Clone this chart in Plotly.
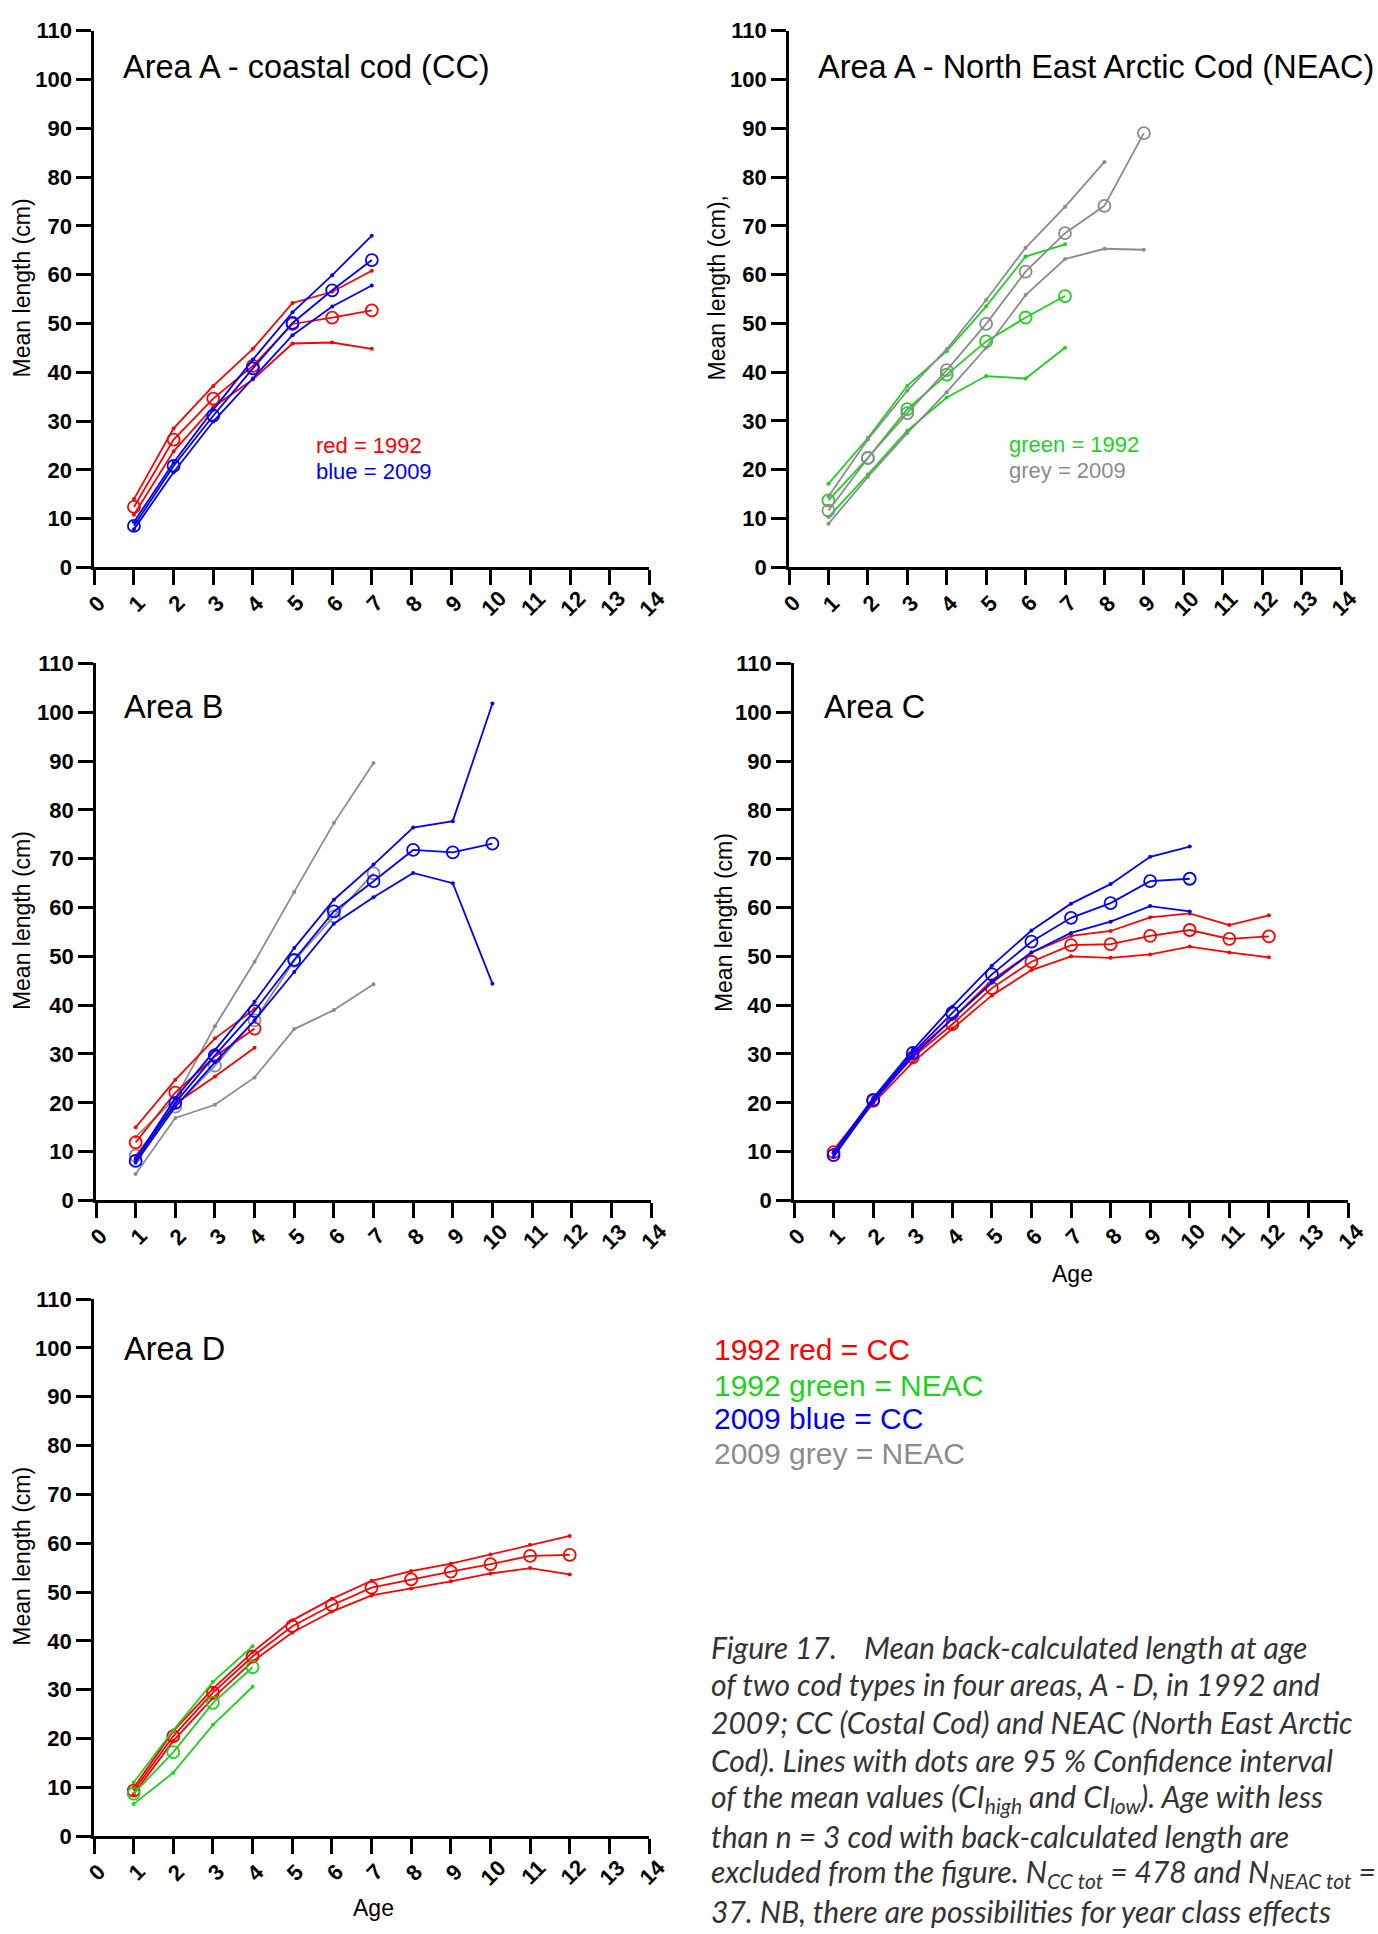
import plotly.graph_objects as go

W, H = 1378, 1934

AGES = [1, 2, 3, 4, 5, 6, 7, 8, 9, 10, 11, 12]
X_TICKS = list(range(0, 15))
X_TICK_LABELS = [str(t) for t in X_TICKS]
Y_TICKS = list(range(0, 111, 10))

# ---------------- data (mean length, cm; CI high / mean / CI low) ----------------
# Area A - coastal cod
a_cc92_high = [14.0, 28.5, 37.2, 44.8, 54.2, 56.5, 60.8]
a_cc92_mean = [12.4, 26.2, 34.6, 41.3, 49.9, 51.2, 52.7]
a_cc92_low = [10.8, 23.8, 32.9, 38.5, 45.9, 46.1, 44.8]
a_cc09_high = [9.3, 21.5, 32.3, 42.6, 52.3, 59.9, 68.0]
a_cc09_mean = [8.5, 20.8, 31.1, 40.8, 50.1, 56.8, 63.0]
a_cc09_low = [7.8, 19.5, 29.9, 38.7, 47.6, 53.5, 57.8]

# Area A - North East Arctic cod
a_ne92_high = [17.1, 26.5, 37.2, 44.3, 53.5, 63.7, 66.2]
a_ne92_mean = [13.7, 22.4, 32.4, 39.5, 46.3, 51.2, 55.6]
a_ne92_low = [10.3, 19.0, 28.0, 34.8, 39.2, 38.7, 45.0]
a_ne09_high = [14.5, 26.2, 36.2, 44.7, 54.8, 65.5, 73.9, 83.1]
a_ne09_mean = [11.6, 22.4, 31.6, 40.4, 49.9, 60.6, 68.5, 74.1, 89.0]
a_ne09_low = [8.9, 18.5, 27.5, 35.9, 45.0, 55.8, 63.2, 65.3, 65.1]

# Area B
b_cc92_high = [15.0, 24.7, 33.2, 39.2]
b_cc92_mean = [11.9, 22.1, 29.5, 35.2]
b_cc92_low = [9.0, 19.8, 25.4, 31.3]
b_ne09_high = [13.0, 20.9, 35.7, 48.9, 63.2, 77.3, 89.6]
b_ne09_mean = [9.2, 19.2, 27.6, 36.9, 49.1, 58.2, 67.0]
b_ne09_low = [5.4, 16.9, 19.6, 25.2, 35.1, 39.0, 44.3]
b_cc09_high = [8.5, 20.9, 30.8, 40.7, 51.7, 61.6, 68.8, 76.4, 77.7, 101.8]
b_cc09_mean = [8.1, 20.0, 29.7, 38.8, 49.3, 59.2, 65.4, 71.8, 71.3, 73.1]
b_cc09_low = [7.7, 19.2, 28.3, 36.9, 46.8, 56.7, 62.1, 67.1, 65.0, 44.4]

# Area C
c_cc92_high = [10.3, 20.6, 30.0, 37.2, 45.1, 50.8, 54.2, 55.2, 58.0, 58.8, 56.4, 58.4]
c_cc92_mean = [9.9, 20.4, 29.3, 36.1, 43.5, 48.9, 52.3, 52.5, 54.2, 55.4, 53.6, 54.1]
c_cc92_low = [9.6, 19.9, 28.3, 35.2, 42.0, 47.2, 50.0, 49.7, 50.4, 52.0, 50.8, 49.8]
c_cc09_high = [9.8, 21.0, 30.8, 39.7, 48.1, 55.3, 60.8, 64.8, 70.4, 72.5]
c_cc09_mean = [9.3, 20.6, 30.2, 38.4, 46.3, 53.0, 57.9, 60.9, 65.4, 65.9]
c_cc09_low = [8.9, 20.2, 29.5, 37.2, 44.6, 50.8, 54.8, 57.1, 60.3, 59.2]

# Area D
d_cc92_high = [9.9, 21.5, 30.2, 37.7, 44.2, 48.6, 52.3, 54.3, 55.8, 57.7, 59.7, 61.5]
d_cc92_mean = [9.3, 20.5, 29.4, 36.8, 43.0, 47.3, 50.9, 52.6, 54.2, 55.7, 57.4, 57.6]
d_cc92_low = [8.6, 19.5, 28.3, 35.8, 41.7, 46.0, 49.3, 50.7, 52.2, 53.8, 54.9, 53.6]
d_ne92_high = [11.0, 21.7, 31.6, 38.9]
d_ne92_mean = [8.7, 17.2, 27.3, 34.6]
d_ne92_low = [6.6, 13.0, 22.8, 30.6]

RED = "#FF0000"
GREEN = "#1ED21E"
BLUE = "#0000FF"
GREY = "#8C8C8C"

SANS = "Liberation Sans, Arial, sans-serif"
CAPTION_FONT = "Lato, Open Sans, sans-serif"


def fx(x):
    return x / W


def fy(y):
    return 1 - y / H


# (axis suffix, left, right, top, bottom) in pixels
panels = [
    ("", 94.3, 649.3, 19.0, 562.7),
    ("2", 789.0, 1341.0, 19.0, 562.5),
    ("3", 96.0, 651.0, 660.0, 1204.0),
    ("4", 794.0, 1348.0, 660.0, 1204.0),
    ("5", 94.0, 649.0, 1304.0, 1848.0),
]

groups = {
    "": [(RED, a_cc92_high, a_cc92_mean, a_cc92_low),
         (BLUE, a_cc09_high, a_cc09_mean, a_cc09_low)],
    "2": [(GREEN, a_ne92_high, a_ne92_mean, a_ne92_low),
          (GREY, a_ne09_high, a_ne09_mean, a_ne09_low)],
    "3": [(GREY, b_ne09_high, b_ne09_mean, b_ne09_low),
          (RED, b_cc92_high, b_cc92_mean, b_cc92_low),
          (BLUE, b_cc09_high, b_cc09_mean, b_cc09_low)],
    "4": [(RED, c_cc92_high, c_cc92_mean, c_cc92_low),
          (BLUE, c_cc09_high, c_cc09_mean, c_cc09_low)],
    "5": [(RED, d_cc92_high, d_cc92_mean, d_cc92_low),
          (GREEN, d_ne92_high, d_ne92_mean, d_ne92_low)],
}

fig = go.Figure()
layout = dict(
    width=W, height=H, margin=dict(l=0, r=0, t=0, b=0),
    paper_bgcolor="white", plot_bgcolor="white", showlegend=False,
)
annotations = []

for suf, left, right, top, bottom in panels:
    xa, ya = "x" + suf, "y" + suf
    for color, high, mean, low in groups[suf]:
        for vals, kind in ((high, "ci"), (low, "ci"), (mean, "mean")):
            if kind == "mean":
                marker = dict(symbol="circle-open", size=12, color=color,
                              line=dict(width=1.8, color=color))
            else:
                marker = dict(symbol="circle", size=4, color=color)
            fig.add_trace(go.Scatter(
                x=AGES[:len(vals)], y=vals, mode="lines+markers",
                line=dict(color=color, width=1.8), marker=marker,
                xaxis=xa, yaxis=ya, hoverinfo="skip", cliponaxis=False))
    common = dict(showline=True, linewidth=2.7, linecolor="black",
                  ticks="outside", ticklen=15, tickwidth=2.7, tickcolor="black",
                  showgrid=False, zeroline=False, fixedrange=True)
    layout["xaxis" + suf] = dict(domain=[fx(left), fx(right)], range=[0, 14],
                                 tickvals=X_TICKS, showticklabels=False,
                                 anchor=ya, **common)
    layout["yaxis" + suf] = dict(domain=[fy(bottom), fy(top)], range=[0, 110],
                                 tickvals=Y_TICKS, anchor=xa,
                                 tickfont=dict(family=SANS, size=22, color="black",
                                               weight="bold"),
                                 **common)
    for t, lab in zip(X_TICKS, X_TICK_LABELS):
        annotations.append(dict(
            x=t, xref=xa, y=fy(bottom + 37), yref="paper", text="<b>" + lab + "</b>",
            showarrow=False, textangle=-45, xshift=3,
            font=dict(family=SANS, size=22, color="black"),
            xanchor="center", yanchor="middle"))


def text(x, y, s, size, color="black", family=SANS, anchor="left", angle=0):
    annotations.append(dict(x=fx(x), y=fy(y), xref="paper", yref="paper", text=s,
                            showarrow=False, xanchor=anchor, yanchor="middle",
                            textangle=angle,
                            font=dict(family=family, size=size, color=color)))


# panel titles
text(121, 56, "Area A - coastal cod (CC)", 32.5)
text(816, 56, "Area A - North East Arctic Cod (NEAC)", 32.5)
text(122, 704, "Area B", 32.5)
text(822, 704, "Area C", 32.5)
text(122, 1355, "Area D", 32.5)

# y-axis titles
text(22, 280, "Mean length (cm)", 23, anchor="center", angle=-90)
text(717, 280, "Mean length (cm),", 23, anchor="center", angle=-90)
text(22, 921, "Mean length (cm)", 23, anchor="center", angle=-90)
text(724, 922, "Mean length (cm)", 23, anchor="center", angle=-90)
text(22, 1565, "Mean length (cm)", 23, anchor="center", angle=-90)

# x-axis titles
text(1072, 1279, "Age", 23, anchor="center")
text(373, 1921, "Age", 23, anchor="center")

# in-panel keys
text(314, 439, "red = 1992", 22, color=RED)
text(314, 466, "blue = 2009", 22, color=BLUE)
text(1007, 438, "green = 1992", 22, color=GREEN)
text(1007, 465, "grey = 2009", 22, color=GREY)

# big key
text(712, 1355, "1992 red = CC", 30, color=RED)
text(712, 1391, "1992 green = NEAC", 30, color=GREEN)
text(712, 1425, "2009 blue = CC", 30, color=BLUE)
text(712, 1460, "2009 grey = NEAC", 30, color=GREY)

# caption
CAP = "#333333"
cap_lines = [
    "of two cod types in four areas, A - D, in 1992 and",
    "2009; CC (Costal Cod) and NEAC (North East Arctic",
    "Cod). Lines with dots are 95 % Confidence interval",
    "of the mean values (CI<sub>high</sub> and CI<sub>low</sub>). Age with less",
    "than n = 3 cod with back-calculated length are",
    "excluded from the figure. N<sub>CC tot</sub> = 478 and N<sub>NEAC tot</sub> =",
    "37. NB, there are possibilities for year class effects",
]
CY0 = 1656
text(709, CY0, "<i>Figure 17.</i>", 30, color=CAP, family=CAPTION_FONT)
text(862, CY0, "<i>Mean back-calculated length at age</i>", 30, color=CAP, family=CAPTION_FONT)
for i, line in enumerate(cap_lines):
    text(709, CY0 + 38.3 * (i + 1), "<i>" + line + "</i>", 30, color=CAP, family=CAPTION_FONT)

layout["annotations"] = annotations
fig.update_layout(**layout)
fig.write_html("out.html")
